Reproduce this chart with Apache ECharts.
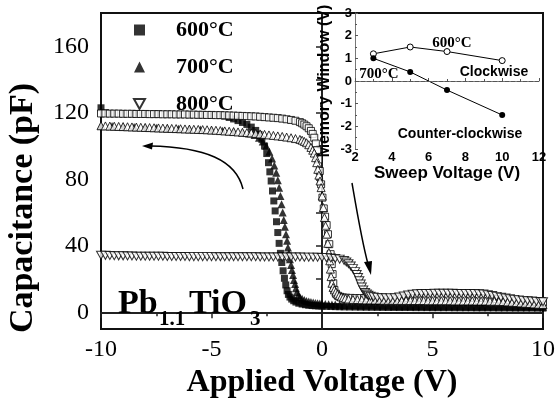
<!DOCTYPE html>
<html>
<head>
<meta charset="utf-8">
<script src="https://cdn.jsdelivr.net/npm/echarts@6/dist/echarts.min.js"></script>
<style>
  html, body { margin: 0; padding: 0; background: #fff; }
  #chart { width: 558px; height: 404px; }
</style>
</head>
<body>
<div id="chart"></div>
<script>
  // main plot: C-V sweeps of Pb1.1TiO3 (voltage in V, capacitance in pF)
  // 600 C, forward sweep (filled squares)
  const sq600V = [-10, -9.8, -9.5, -9, -8.5, -8, -7.5, -7, -6.5, -6, -5.5, -5, -4.6,
    -4.4, -4.2, -4.0, -3.8, -3.6, -3.4, -3.2, -3.0,
    -2.85, -2.72, -2.6, -2.5, -2.42, -2.36, -2.3, -2.24, -2.18, -2.12, -2.06, -2.0, -1.94, -1.88, -1.82,
    -1.76, -1.7, -1.64, -1.58, -1.52, -1.45, -1.37, -1.28, -1.18, -1.05, -0.9, -0.75, -0.6, -0.45, -0.3, -0.15, 0,
    0.2, 0.4, 0.6, 0.8, 1.0,
    1.25, 1.5, 1.75, 2, 2.25, 2.5, 2.75, 3, 3.25, 3.5, 3.75, 4, 4.25, 4.5, 4.75, 5, 5.25, 5.5, 5.75, 6,
    6.25, 6.5, 6.75, 7, 7.25, 7.5, 7.75, 8, 8.25, 8.5, 8.75, 9, 9.25, 9.5, 9.75, 10]
  const sq600C = [123, 120, 119.6, 119.5, 119.4, 119.3, 119.2, 119.1, 119, 118.9, 118.8, 118.7, 118.4,
    118, 117.2, 116.3, 115.3, 114.2, 113, 111.4, 109.4,
    107, 104, 100, 95.5, 90, 84.5, 79, 73, 67, 61, 54.5, 48, 41.5, 35.5, 30,
    25, 20.5, 16.5, 13, 10.8, 9.2, 8, 7, 6.2, 5.5, 5, 4.6, 4.3, 4.1, 3.95, 3.85, 3.75,
    3.65, 3.55, 3.45, 3.4, 3.3,
    3.25, 3.2, 3.15, 3.1, 3.05, 3.0, 3.0, 2.95, 2.95, 2.9, 2.9, 2.9, 2.85, 2.85, 2.85, 2.8, 2.8, 2.8,
    2.8, 2.75, 2.75, 2.75, 2.75, 2.7, 2.7, 2.7, 2.7, 2.65, 2.65, 2.65, 2.6, 2.6, 2.6, 2.6, 2.55, 2.55]

  // 700 C, forward sweep (filled triangles)
  const tri700V = [-10, -9.5, -9, -8.5, -8, -7.5, -7, -6.5, -6, -5.5, -5, -4.5, -4,
    -3.6, -3.3, -3.05, -2.85, -2.68, -2.52, -2.38, -2.26, -2.16, -2.07, -2.0,
    -1.94, -1.88, -1.83, -1.78, -1.73, -1.68, -1.63, -1.58, -1.54, -1.5,
    -1.45, -1.4, -1.36, -1.31, -1.27, -1.22, -1.18, -1.13, -1.07, -1.0,
    -0.9, -0.8, -0.7, -0.6, -0.5, -0.4, -0.3, -0.2, -0.1, 0,
    0.15, 0.3, 0.45, 0.6, 0.8, 1.0,
    1.25, 1.5, 1.75, 2, 2.25, 2.5, 2.75, 3, 3.25, 3.5, 3.75, 4, 4.25, 4.5, 4.75, 5, 5.25, 5.5, 5.75, 6,
    6.25, 6.5, 6.75, 7, 7.25, 7.5, 7.75, 8, 8.25, 8.5, 8.75, 9, 9.25, 9.5, 9.75, 10]
  const tri700C = [112.2, 112, 111.7, 111.4, 111.2, 111, 110.7, 110.4, 110.2, 109.9, 109.6, 109.2, 108.7,
    108.2, 107.6, 106.6, 105, 102.8, 100, 96.5, 92.5, 88.3, 84, 79.5,
    75, 70, 65, 60, 55.5, 51.5, 47, 43, 39, 35.5,
    32, 28.5, 25.5, 22.5, 19.5, 17, 14.5, 12.3, 10.5, 9.2,
    8.2, 7.4, 6.9, 6.5, 6.2, 5.9, 5.7, 5.5, 5.3, 5.2,
    5.0, 4.9, 4.8, 4.7, 4.55, 4.4,
    4.3, 4.25, 4.2, 4.15, 4.1, 4.05, 4.0, 3.95, 3.9, 3.9, 3.85, 3.85, 3.8, 3.8, 3.75, 3.75, 3.7, 3.7,
    3.7, 3.65, 3.65, 3.6, 3.6, 3.6, 3.55, 3.55, 3.5, 3.5, 3.5, 3.45, 3.45, 3.4, 3.4, 3.4, 3.35, 3.35]

  // flat part shared by the two reverse sweeps
  const revFlatV = [-10, -9.8, -9.6, -9.4, -9.2, -9, -8.8, -8.6, -8.4, -8.2, -8, -7.8, -7.6, -7.4, -7.2,
    -7, -6.8, -6.6, -6.4, -6.2, -6, -5.8, -5.6, -5.4, -5.2, -5, -4.8, -4.6, -4.4, -4.2, -4, -3.8, -3.6,
    -3.4, -3.2, -3, -2.8, -2.6, -2.4, -2.2, -2, -1.8, -1.6, -1.4, -1.2]

  // 600 C, reverse sweep (open squares)
  const sq600RevV = revFlatV.concat([-1.0, -0.9, -0.8, -0.7, -0.6, -0.5, -0.42, -0.35, -0.28, -0.22, -0.16, -0.1,
    -0.04, 0.02, 0.08, 0.14, 0.21, 0.27, 0.33, 0.39, 0.44, 0.48, 0.51, 0.56, 0.63, 0.72, 0.82, 0.95, 1.1,
    1.3, 1.5, 1.7, 1.9, 2.1, 2.3, 2.5, 2.7, 2.9, 3.1, 3.3, 3.5, 3.7, 3.9, 4.1, 4.3, 4.5, 4.7, 4.9, 5.1,
    5.3, 5.5, 5.7, 5.9, 6.1, 6.3, 6.5, 6.7, 6.9, 7.1, 7.3, 7.5, 7.7, 7.9, 8.1, 8.3, 8.5, 8.7, 8.9, 9.1,
    9.3, 9.5, 9.7, 9.9, 10])
  const sq600RevC = [119.6, 119.6, 119.5, 119.5, 119.5, 119.4, 119.4, 119.4, 119.3, 119.3, 119.3, 119.2,
    119.2, 119.2, 119.1, 119.1, 119.1, 119, 119, 119, 118.9, 118.9, 118.8, 118.8, 118.7, 118.7, 118.6,
    118.6, 118.5, 118.4, 118.3, 118.2, 118.1, 118, 117.9, 117.8, 117.6, 117.4, 117.2, 117, 116.8, 116.5,
    116.1, 115.7, 115.2,
    114.4, 113.7, 112.9, 111.9, 110.7, 109.1, 107.3, 105, 101.5, 97.5, 92, 85,
    77, 69, 62.5, 57.5, 52.5, 47, 41, 35, 29, 23, 17.5, 13.5, 11.2, 10, 9.4, 9, 8.8,
    8.7, 8.6, 8.6, 8.5, 8.5, 8.4, 8.4, 8.3, 8.3, 8.3, 8.3, 8.4, 8.5, 8.6, 8.7, 8.8, 8.8, 8.9, 8.9, 8.9,
    8.9, 8.9, 8.9, 8.9, 8.8, 8.8, 8.8, 8.8, 8.7, 8.7, 8.6, 8.4, 8.2, 8.0, 7.8, 7.6, 7.4, 7.2, 7.0, 6.8,
    6.6, 6.4, 6.3, 6.2, 6.1]

  // 700 C, reverse sweep (open triangles)
  const tri700RevV = revFlatV.concat([-1.0, -0.9, -0.8, -0.7, -0.6, -0.5, -0.42, -0.35, -0.29, -0.24, -0.19,
    -0.14, -0.09, -0.04, 0.01, 0.06, 0.11, 0.16, 0.21, 0.26, 0.31, 0.35, 0.38, 0.41, 0.45, 0.5, 0.56,
    0.63, 0.7, 0.78, 0.87, 0.96, 1.06, 1.2,
    1.4, 1.6, 1.8, 2.0, 2.2, 2.4, 2.6, 2.8, 3.0, 3.2, 3.4, 3.6, 3.8, 4.0, 4.2, 4.4, 4.6, 4.8, 5.0, 5.2,
    5.4, 5.6, 5.8, 6.0, 6.2, 6.4, 6.6, 6.8, 7.0, 7.2, 7.4, 7.6, 7.8, 8.0, 8.2, 8.4, 8.6, 8.8, 9.0, 9.2,
    9.4, 9.6, 9.8, 10])
  const tri700RevC = [112.2, 112.1, 112.0, 111.9, 111.8, 111.7, 111.6, 111.5, 111.4, 111.3, 111.2, 111.1,
    111.0, 110.9, 110.8, 110.7, 110.6, 110.5, 110.4, 110.3, 110.2, 110.1, 110, 109.9, 109.8, 109.6, 109.5,
    109.3, 109.1, 108.9, 108.7, 108.5, 108.3, 108.1, 107.9, 107.6, 107.3, 107, 106.7, 106.4, 106.1, 105.8,
    105.4, 105, 104.5,
    104, 103.5, 102.8, 102, 100.8, 99.2, 97.5, 95.8, 93, 90, 86, 82.5, 79, 75, 70, 63, 57, 52, 47, 41.5,
    36, 31, 26, 21.5, 17.5, 15, 13.5, 12.3, 11, 10, 9.3, 8.8, 8.4, 8,
    7.8, 7.7, 7.6, 7.5, 7.5, 7.4, 7.4, 7.3, 7.3, 7.3, 7.2, 7.2, 7.2, 7.1, 7.1, 7.1, 7.1, 7.0, 7.0, 7.0,
    7.0, 7.0, 7.0, 6.9, 6.9, 6.9, 6.9, 6.9, 6.8, 6.8, 6.8, 6.7, 6.7, 6.6, 6.5, 6.3, 6.1, 5.9, 5.7, 5.5,
    5.3, 5.1, 4.9, 4.7]

  // 800 C (open down triangles)
  const dt800V = [-10, -9.8, -9.6, -9.4, -9.2, -9, -8.8, -8.6, -8.4, -8.2, -8, -7.8, -7.6, -7.4, -7.2, -7,
    -6.8, -6.6, -6.4, -6.2, -6, -5.8, -5.6, -5.4, -5.2, -5, -4.8, -4.6, -4.4, -4.2, -4, -3.8, -3.6, -3.4,
    -3.2, -3, -2.8, -2.6, -2.4, -2.2, -2, -1.8, -1.6, -1.4, -1.2, -1, -0.8, -0.6, -0.4, -0.2, 0, 0.2, 0.4,
    0.6, 0.8,
    1.0, 1.1, 1.2, 1.3, 1.4, 1.5, 1.57, 1.63, 1.69, 1.75, 1.8, 1.87, 1.95, 2.03, 2.1, 2.2, 2.33,
    2.5, 2.7, 2.9, 3.1, 3.3, 3.5, 3.7, 3.9, 4.1, 4.3, 4.5, 4.7, 4.9, 5.1, 5.3, 5.5, 5.7, 5.9, 6.1, 6.3,
    6.5, 6.7, 6.9, 7.1, 7.3, 7.5, 7.7, 7.9, 8.1, 8.3, 8.5, 8.7, 8.9, 9.1, 9.3, 9.5, 9.7, 9.9, 10]
  const dt800C = [34.4, 34.3, 34.2, 34.1, 34.0, 34.0, 33.9, 33.9, 33.8, 33.8, 33.8,
    33.7, 33.7, 33.7, 33.7, 33.6, 33.6, 33.6, 33.6, 33.6, 33.5, 33.5, 33.5, 33.5, 33.5, 33.5,
    33.4, 33.4, 33.4, 33.4, 33.4, 33.4, 33.4, 33.4, 33.4, 33.4, 33.3, 33.3, 33.3, 33.3, 33.3, 33.3, 33.3,
    33.3, 33.3, 33.3, 33.2, 33.2, 33.2, 33.1, 33.0, 32.9, 32.7, 32.4, 32.0,
    31.2, 30.3, 29.2, 27.9, 26.3, 24.5, 22.8, 21, 19, 17, 15.2, 13.5, 12, 11, 10.3, 9.7, 9.3,
    9.0, 8.8, 8.7, 8.7, 8.8, 9.2, 9.8, 10.4, 10.9, 11.2, 11.3, 11.4, 11.4, 11.5, 11.5, 11.5, 11.5, 11.5,
    11.4, 11.4, 11.4, 11.3, 11.3, 11.2, 11.0, 10.6, 10.1, 9.6, 9.1, 8.6, 8.2, 7.8, 7.5, 7.2, 7.0, 6.8,
    6.6, 6.5, 6.4]

  // inset: memory window vs sweep voltage
  const sweepVolt = [3, 5, 7, 10]
  const mw600 = [1.2, 1.5, 1.3, 0.9]
  const mw700 = [1.0, 0.4, -0.4, -1.5]

  const capTicks = [0, 20, 40, 60, 80, 100, 120, 140, 160]
  const capLabels = [0, 40, 80, 120, 160]

  const pairs = (xs, ys) => xs.map((x, i) => [x, ys[i]])

  const SERIF = 'Liberation Serif'
  const SANS = 'Liberation Sans'
  const openStyle = {color: '#fff', borderColor: '#000', borderWidth: 1}
  const downTri = 'path://M0,0L10,0L5,9Z'

  const chart = echarts.init(document.getElementById('chart'), null, {renderer: 'canvas'})

  const option = {
    animation: false,
    backgroundColor: '#fff',
    legend: {
      data: ['600°C', '700°C', '800°C'],
      orient: 'vertical',
      left: 128,
      top: 13,
      itemWidth: 11,
      itemHeight: 11,
      itemGap: 13,
      textStyle: {fontFamily: SERIF, fontWeight: 'bold', fontSize: 22, lineHeight: 24, color: '#000',
        padding: [0, 0, 0, 26]}
    },
    grid: [
      {left: 101, right: 14, top: 13, bottom: 64, show: true, borderColor: '#111', borderWidth: 2},
      {left: 355, right: 19, top: 13, height: 136}
    ],
    xAxis: [
      {
        type: 'value', gridIndex: 0, min: -10, max: 10, interval: 5,
        axisLine: {lineStyle: {color: '#222', width: 2}},
        axisTick: {length: 6, lineStyle: {color: '#222', width: 1.5}},
        minorTick: {show: true, splitNumber: 2, length: 4, lineStyle: {color: '#222', width: 1.5}},
        splitLine: {show: false},
        axisLabel: {fontFamily: SERIF, fontSize: 24, color: '#000', margin: 9},
        name: 'Applied Voltage (V)',
        nameLocation: 'middle',
        nameGap: 38,
        nameTextStyle: {fontFamily: SERIF, fontWeight: 'bold', fontSize: 32, color: '#000'}
      },
      {
        type: 'value', gridIndex: 1, min: 2, max: 12, interval: 2,
        axisLine: {lineStyle: {color: '#777', width: 1}},
        axisTick: {inside: true, length: 3, lineStyle: {color: '#555'}},
        minorTick: {show: true, splitNumber: 2, length: 2, lineStyle: {color: '#555'}},
        splitLine: {show: false},
        axisLabel: {fontFamily: SANS, fontWeight: 'bold', fontSize: 13, color: '#000', margin: 2},
        name: 'Sweep Voltage (V)',
        nameLocation: 'middle',
        nameGap: 14,
        nameTextStyle: {fontFamily: SANS, fontWeight: 'bold', fontSize: 17, color: '#000'}
      }
    ],
    yAxis: [
      {
        type: 'value', gridIndex: 0, min: -10, max: 180,
        axisLine: {show: true, lineStyle: {color: '#222', width: 2}},
        axisTick: {show: true, length: 6, customValues: capTicks, lineStyle: {color: '#222', width: 1.5}},
        splitLine: {show: false},
        axisLabel: {fontFamily: SERIF, fontSize: 24, color: '#000', margin: 12, customValues: capLabels}
      },
      {
        type: 'value', gridIndex: 1, min: -3, max: 3, interval: 1,
        axisLine: {show: true, lineStyle: {color: '#777', width: 1}},
        axisTick: {show: true, inside: true, length: 3, lineStyle: {color: '#555'}},
        minorTick: {show: true, splitNumber: 2, length: 2, lineStyle: {color: '#555'}},
        splitLine: {show: false},
        axisLabel: {fontFamily: SANS, fontWeight: 'bold', fontSize: 13, color: '#000', margin: 3},
        name: 'Memory Window (V)',
        nameLocation: 'middle',
        nameRotate: 90,
        nameGap: 22,
        nameTextStyle: {fontFamily: SANS, fontWeight: 'bold', fontSize: 16, color: '#000'}
      }
    ],
    series: [
      {
        name: '600°C', type: 'scatter', xAxisIndex: 0, yAxisIndex: 0,
        symbol: 'rect', symbolSize: 7, itemStyle: {color: '#000'},
        data: pairs(sq600V, sq600C)
      },
      {
        name: '700°C', type: 'scatter', xAxisIndex: 0, yAxisIndex: 0,
        symbol: 'triangle', symbolSize: 8, itemStyle: {color: '#000'},
        data: pairs(tri700V, tri700C)
      },
      {
        name: '600°C reverse', type: 'scatter', xAxisIndex: 0, yAxisIndex: 0,
        symbol: 'rect', symbolSize: 7, itemStyle: openStyle,
        data: pairs(sq600RevV, sq600RevC)
      },
      {
        name: '700°C reverse', type: 'scatter', xAxisIndex: 0, yAxisIndex: 0,
        symbol: 'triangle', symbolSize: 8, itemStyle: openStyle,
        data: pairs(tri700RevV, tri700RevC)
      },
      {
        name: '800°C', type: 'scatter', xAxisIndex: 0, yAxisIndex: 0,
        symbol: downTri, symbolSize: [9, 8], itemStyle: openStyle,
        data: pairs(dt800V, dt800C)
      },
      {
        name: 'mw 600', type: 'line', xAxisIndex: 1, yAxisIndex: 1,
        symbol: 'circle', symbolSize: 6, showSymbol: true,
        lineStyle: {color: '#000', width: 1},
        itemStyle: openStyle,
        data: pairs(sweepVolt, mw600),
        markLine: {
          silent: true, symbol: 'none', label: {show: false},
          lineStyle: {type: 'dashed', color: '#555', width: 1},
          data: [{yAxis: 0}]
        }
      },
      {
        name: 'mw 700', type: 'line', xAxisIndex: 1, yAxisIndex: 1,
        symbol: 'circle', symbolSize: 6, showSymbol: true,
        lineStyle: {color: '#000', width: 1},
        itemStyle: {color: '#000'},
        data: pairs(sweepVolt, mw700)
      }
    ],
    graphic: [
      {
        type: 'text', x: 23, y: 208, rotation: Math.PI / 2, z: 100,
        style: {text: 'Capacitance (pF)', fontFamily: SERIF, fontWeight: 'bold', fontSize: 34,
          fill: '#000', align: 'center', verticalAlign: 'middle'}
      },
      // Pb1.1TiO3 label
      {type: 'text', x: 118, y: 304, z: 100,
        style: {text: 'Pb', fontFamily: SERIF, fontWeight: 'bold', fontSize: 34, fill: '#000', verticalAlign: 'middle'}},
      {type: 'text', x: 159, y: 320, z: 100,
        style: {text: '1.1', fontFamily: SERIF, fontWeight: 'bold', fontSize: 21, fill: '#000', verticalAlign: 'middle'}},
      {type: 'text', x: 189, y: 304, z: 100,
        style: {text: 'TiO', fontFamily: SERIF, fontWeight: 'bold', fontSize: 34, fill: '#000', verticalAlign: 'middle'}},
      {type: 'text', x: 250, y: 320, z: 100,
        style: {text: '3', fontFamily: SERIF, fontWeight: 'bold', fontSize: 21, fill: '#000', verticalAlign: 'middle'}},
      // inset annotations
      {type: 'text', x: 452, y: 43, z: 100,
        style: {text: '600°C', fontFamily: SERIF, fontWeight: 'bold', fontSize: 15, fill: '#000', align: 'center', verticalAlign: 'middle'}},
      {type: 'text', x: 379, y: 74, z: 100,
        style: {text: '700°C', fontFamily: SERIF, fontWeight: 'bold', fontSize: 15, fill: '#000', align: 'center', verticalAlign: 'middle'}},
      {type: 'text', x: 494, y: 72, z: 100,
        style: {text: 'Clockwise', fontFamily: SANS, fontWeight: 'bold', fontSize: 14, fill: '#000', align: 'center', verticalAlign: 'middle'}},
      {type: 'text', x: 460, y: 134, z: 100,
        style: {text: 'Counter-clockwise', fontFamily: SANS, fontWeight: 'bold', fontSize: 14, fill: '#000', align: 'center', verticalAlign: 'middle'}},
      // sweep direction arrows
      {type: 'bezierCurve', z: 100,
        shape: {x1: 243, y1: 189, cpx1: 236, cpy1: 160, cpx2: 205, cpy2: 147, x2: 150, y2: 146},
        style: {stroke: '#000', lineWidth: 1.5, fill: null}},
      {type: 'polygon', z: 100, shape: {points: [[142, 146], [153, 142.5], [152, 149.5]]}, style: {fill: '#000'}},
      {type: 'bezierCurve', z: 100,
        shape: {x1: 352, y1: 183, cpx1: 357, cpy1: 212, cpx2: 362, cpy2: 242, x2: 368, y2: 264},
        style: {stroke: '#000', lineWidth: 1.5, fill: null}},
      {type: 'polygon', z: 100, shape: {points: [[371, 275], [364, 262], [372, 261]]}, style: {fill: '#000'}}
    ]
  }

  chart.setOption(option)
</script>
</body>
</html>
